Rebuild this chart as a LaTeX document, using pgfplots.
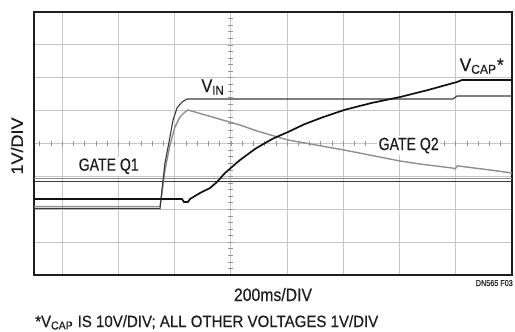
\documentclass[border=0pt]{standalone}
\usepackage{fontspec}
\setmainfont{Liberation Sans}[FakeBold=0.6]
\usepackage{graphicx}
\usepackage{pgfplots}
\pgfplotsset{compat=1.18}
\definecolor{vcap}{HTML}{111111}
\definecolor{vin}{HTML}{3A3A3A}
\definecolor{gq}{HTML}{8E8E8E}
\definecolor{gridc}{HTML}{C6C6C6}
\definecolor{txt}{HTML}{1E1E1E}
\begin{document}
\begin{tikzpicture}
\path[use as bounding box] (0,0) rectangle (515bp,332bp);
\begin{axis}[
  at={(34bp,57bp)}, anchor=south west,
  scale only axis, width=478bp, height=263bp,
  xmin=-0.5, xmax=8, ymin=0, ymax=8,
  xtick={0,...,7}, ytick={1,...,7},
  xticklabels={}, yticklabels={},
  major tick length=0pt,
  grid=major,
  grid style={gridc, line width=0.9bp},
  axis line style={draw=txt, line width=1.1bp},
  clip=false,
]
% centre graticule minor ticks
\pgfplotsinvokeforeach{-0.4,-0.2,0,0.2,0.4,0.6,0.8,1,1.2,1.4,1.6,1.8,2,2.2,2.4,2.6,2.8,3,3.2,3.4,3.6,3.8,4,4.2,4.4,4.6,4.8,5,5.2,5.4,5.6,5.8,6,6.2,6.4,6.6,6.8,7,7.2,7.4,7.6,7.8}{
  \draw[gridc!75!black, line width=0.6bp] (axis cs:#1,3.925) -- (axis cs:#1,4.075);
}
\pgfplotsinvokeforeach{0.2,0.4,0.6,0.8,1,1.2,1.4,1.6,1.8,2,2.2,2.4,2.6,2.8,3,3.2,3.4,3.6,3.8,4,4.2,4.4,4.6,4.8,5,5.2,5.4,5.6,5.8,6,6.2,6.4,6.6,6.8,7,7.2,7.4,7.6,7.8}{
  \draw[gridc!75!black, line width=0.6bp] (axis cs:2.956,#1) -- (axis cs:3.044,#1);
}
% GATE Q1
\addplot[gq, line width=1.3bp] coordinates {(-0.5,2.93) (8,2.93)};
\addplot[vin, line width=0.7bp] coordinates {(-0.5,2.85) (8,2.85)};
% GATE Q2
\addplot[gq, line width=1.4bp] coordinates {
(-0.5,2.08) (1.741,2.08) (1.776,2.50) (1.829,3.194) (1.918,3.954) (2.007,4.502)
(2.096,4.806) (2.185,4.958) (2.238,5.019) (3.163,4.563) (3.466,4.380) (4.017,4.106)
(5.013,3.802) (6.008,3.468) (6.364,3.376) (6.933,3.255) (6.99,3.23) (7.03,3.32)
(7.609,3.194) (8.0,3.103)};
% VIN
\addplot[vin, line width=1.1bp] coordinates {
(-0.5,2.02) (1.741,2.02) (1.776,2.60) (1.829,3.407) (1.918,4.198) (1.972,4.715)
(2.043,5.080) (2.132,5.262) (2.221,5.354) (6.951,5.354) (7.022,5.445) (8.0,5.445)};
% VCAP
\addplot[vcap, line width=1.7bp] coordinates {
(-0.5,2.312) (2.132,2.312) (2.167,2.221) (2.238,2.221) (2.274,2.312) (2.452,2.494)
(2.630,2.646) (2.754,2.829) (2.896,3.103) (3.163,3.498) (3.430,3.833) (3.519,3.924)
(3.75,4.15) (4.017,4.350) (4.30,4.58) (4.621,4.790) (5.013,5.019) (5.50,5.232)
(6.008,5.414) (6.506,5.627) (7.022,5.871) (7.111,5.932) (8.0,5.932)};
% labels
\node[fill=white, inner sep=1.5bp, text=txt, anchor=base] at (axis cs:2.683,5.567) {\resizebox{23bp}{12.5bp}{V\textsubscript{IN}}};
\node[fill=white, inner sep=1.5bp, text=txt, anchor=base west] at (axis cs:7.040,6.205) {\resizebox{44bp}{12.5bp}{V\textsubscript{CAP}*}};
\node[fill=white, inner sep=1.5bp, text=txt, anchor=base west] at (axis cs:5.599,3.802) {\resizebox{60bp}{12.3bp}{GATE Q2}};
\node[fill=white, inner sep=1.5bp, text=txt, anchor=base west] at (axis cs:0.265,3.173) {\resizebox{60bp}{12.3bp}{GATE Q1}};
\node[text=txt, rotate=90, anchor=center] at (axis cs:-0.802,3.924) {\resizebox{57bp}{12bp}{1V/DIV}};
\node[text=txt, anchor=base] at (axis cs:3.750,-0.791) {\resizebox{78bp}{13bp}{200ms/DIV}};
\node[text=txt, anchor=base east, inner sep=0pt] at (axis cs:8.018,-0.335) {\resizebox{37bp}{6bp}{DN565 F03}};
\node[text=txt, anchor=base west, inner sep=0pt] at (axis cs:-0.482,-1.582) {\resizebox{343bp}{11.8bp}{*V\textsubscript{CAP} IS 10V/DIV; ALL OTHER VOLTAGES 1V/DIV}};
\end{axis}
\end{tikzpicture}
\end{document}
